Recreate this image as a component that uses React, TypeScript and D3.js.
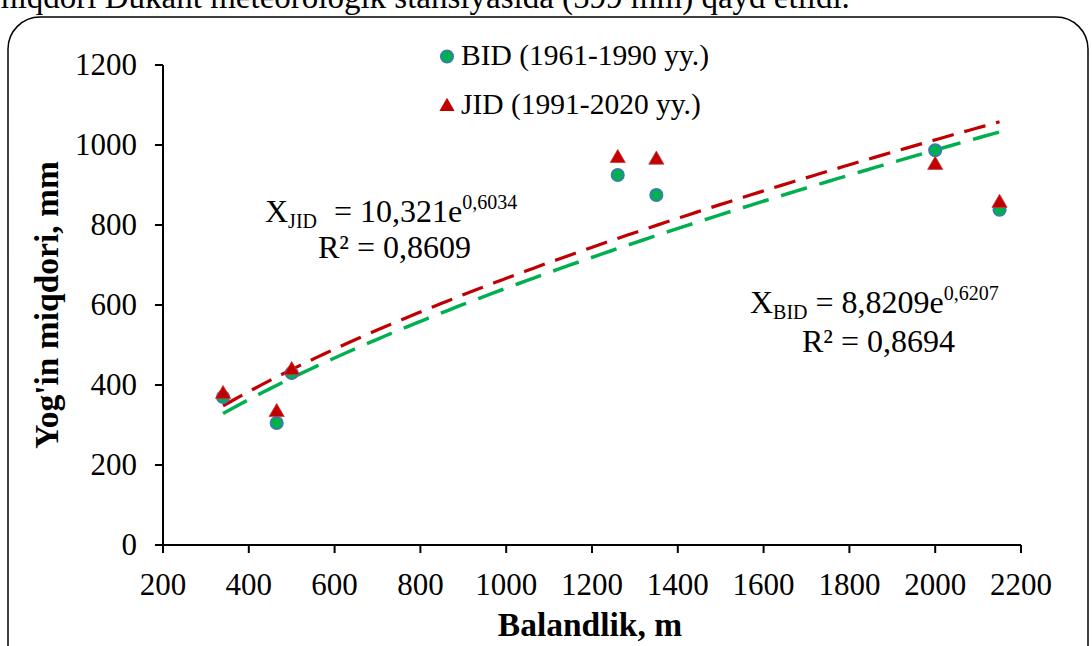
import React from "react";
import * as d3 from "d3";

// Station altitudes (m) and precipitation totals (mm)
const altitudes = [340, 465, 500, 1260, 1350, 2000, 2150];
const bidValues = [370, 305, 430, 925, 875, 987, 838];
const jidValues = [377, 332, 437, 967, 963, 950, 855];

// Power trend coefficients y = a * x^b
const jidTrend = { a: 10.321, b: 0.6034 };
const bidTrend = { a: 8.8209, b: 0.6207 };

const xTicks = [200, 400, 600, 800, 1000, 1200, 1400, 1600, 1800, 2000, 2200];
const yTicks = [0, 200, 400, 600, 800, 1000, 1200];

const W = 1092;
const H = 646;
const FONT = "'Liberation Serif', 'Times New Roman', serif";

const GREEN = "#00B050";
const BLUE = "#4472C4";
const RED = "#C00000";

export default function App() {
  const x = d3.scaleLinear().domain([200, 2200]).range([163, 1021]);
  const y = d3.scaleLinear().domain([0, 1200]).range([545, 65]);

  const [x0, x1] = d3.extent(altitudes) as [number, number];
  const samples = d3.range(0, 101).map((i) => x0 + ((x1 - x0) * i) / 100);
  const trendPath = (t: { a: number; b: number }) =>
    d3
      .line<number>()
      .x((d) => x(d))
      .y((d) => y(t.a * Math.pow(d, t.b)))(samples) as string;

  const tri = d3.symbol().type(d3.symbolTriangle).size(100)() as string;

  return (
    <svg
      width={W}
      height={H}
      style={{ position: "absolute", left: 0, top: 0, background: "#fff" }}
      fontFamily={FONT}
    >
      <rect x={0} y={0} width={W} height={H} fill="#fff" />
      <text x={-8} y={8} fontSize={33} fill="#000">
        miqdori Dukant meteorologik stansiyasida (599 mm) qayd etildi.
      </text>
      <rect
        x={8}
        y={17}
        width={1080}
        height={660}
        rx={32}
        ry={32}
        fill="none"
        stroke="#000"
        strokeWidth={1.5}
      />

      {/* axes */}
      <line x1={x(200)} x2={x(2200)} y1={y(0)} y2={y(0)} stroke="#000" strokeWidth={2} />
      <line x1={x(200)} x2={x(200)} y1={y(0)} y2={y(1200)} stroke="#000" strokeWidth={2} />
      {yTicks.map((t) => (
        <g key={"y" + t}>
          <line x1={x(200) - 8} x2={x(200)} y1={y(t)} y2={y(t)} stroke="#000" strokeWidth={2} />
          <text x={137} y={y(t) + 10} fontSize={31} textAnchor="end" fill="#000">
            {t}
          </text>
        </g>
      ))}
      {xTicks.map((t) => (
        <g key={"x" + t}>
          <line x1={x(t)} x2={x(t)} y1={y(0)} y2={y(0) + 8} stroke="#000" strokeWidth={2} />
          <text x={x(t)} y={595} fontSize={31} textAnchor="middle" fill="#000">
            {t}
          </text>
        </g>
      ))}

      <text x={590} y={636} fontSize={33.5} fontWeight="bold" textAnchor="middle" fill="#000">
        Balandlik, m
      </text>
      <text
        transform={`translate(58,305) rotate(-90)`}
        fontSize={33.5}
        fontWeight="bold"
        textAnchor="middle"
        fill="#000"
      >
        Yog'in miqdori, mm
      </text>

      {/* trend lines */}
      <path
        d={trendPath(bidTrend)}
        fill="none"
        stroke={GREEN}
        strokeWidth={3.5}
        strokeDasharray="27 13"
      />
      <path
        d={trendPath(jidTrend)}
        fill="none"
        stroke={RED}
        strokeWidth={3.2}
        strokeDasharray="22 11"
      />

      {/* markers */}
      {altitudes.map((a, i) => (
        <circle
          key={"b" + i}
          cx={x(a)}
          cy={y(bidValues[i])}
          r={6.3}
          fill={GREEN}
          stroke={BLUE}
          strokeWidth={1.5}
        />
      ))}
      {altitudes.map((a, i) => (
        <path
          key={"j" + i}
          d={tri}
          transform={`translate(${x(a)},${y(jidValues[i])})`}
          fill={RED}
          stroke="#C83A3A"
          strokeWidth={0.8}
        />
      ))}

      {/* legend */}
      <circle cx={447} cy={56.5} r={6.3} fill={GREEN} stroke={BLUE} strokeWidth={1.5} />
      <text x={461} y={65} fontSize={29.5} fill="#000">
        BID (1961-1990 yy.)
      </text>
      <path d={tri} transform="translate(447,106.5)" fill={RED} />
      <text x={461} y={113.5} fontSize={29.5} fill="#000">
        JID (1991-2020 yy.)
      </text>

      {/* equations */}
      <text x={265} y={222} fontSize={32} fill="#000">
        X
        <tspan fontSize={20} dy={6}>JID</tspan>
        <tspan dy={-6} dx={9}>{" = 10,321e"}</tspan>
        <tspan fontSize={20} dy={-13}>0,6034</tspan>
      </text>
      <text x={318} y={258} fontSize={32} fill="#000">
        R² = 0,8609
      </text>
      <text x={750} y={313} fontSize={32} fill="#000">
        X
        <tspan fontSize={20} dy={6}>BID</tspan>
        <tspan dy={-6}>{" = 8,8209e"}</tspan>
        <tspan fontSize={20} dy={-13}>0,6207</tspan>
      </text>
      <text x={802} y={352} fontSize={32} fill="#000">
        R² = 0,8694
      </text>
    </svg>
  );
}
